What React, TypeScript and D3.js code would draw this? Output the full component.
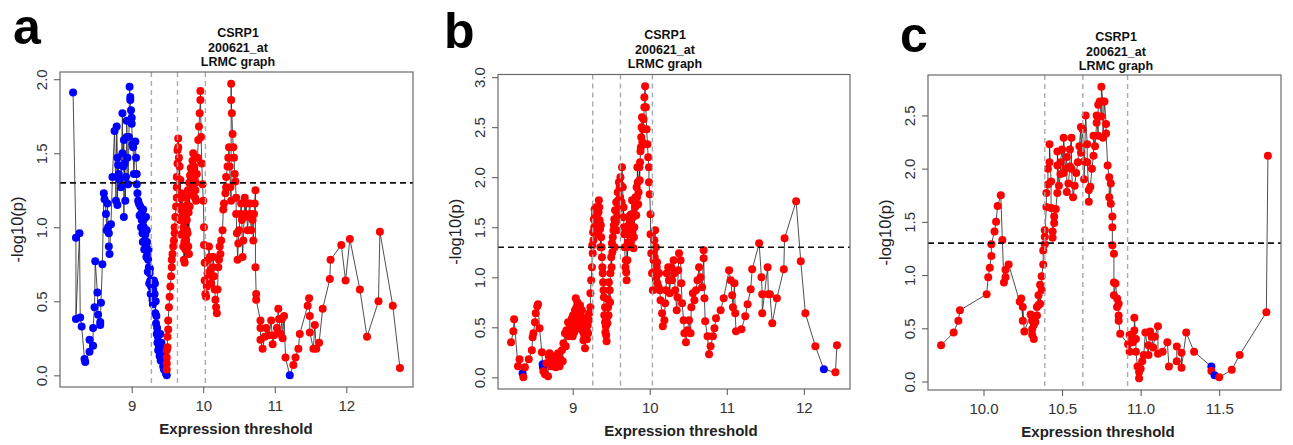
import React, { Component } from "react";
import * as d3 from "d3";

type Pt = [number, number];

const FONT = "'Liberation Sans', Arial, Helvetica, sans-serif";

const titleLines = ["CSRP1", "200621_at", "LRMC graph"];
const xTitle = "Expression threshold";
const yTitle = "-log10(p)";
const pCutoff = 1.3; // -log10(0.05)

// ---- panel a ----
const aBlue: Pt[] = [
  [8.18,1.91],[8.22,0.93],[8.27,0.96],[8.22,0.38],[8.28,0.39],[8.30,0.33],[8.34,0.11],[8.35,0.09],[8.41,0.16],[8.41,0.24],
  [8.46,0.20],[8.46,0.32],[8.48,0.46],[8.49,0.77],[8.52,0.56],[8.53,0.41],[8.56,0.36],[8.56,0.34],[8.57,0.49],[8.59,0.75],
  [8.61,1.23],[8.62,1.19],[8.64,1.09],[8.65,0.98],[8.66,1.16],[8.67,1.00],[8.68,0.96],[8.68,0.87],[8.69,0.82],[8.71,1.02],
  [8.73,1.34],[8.76,1.65],[8.78,1.18],[8.79,1.68],[8.80,1.47],[8.80,1.15],[8.81,1.42],[8.82,1.36],[8.83,1.32],[8.85,1.27],
  [8.87,1.77],[8.87,1.50],[8.88,1.41],[8.89,1.59],[8.89,1.07],[8.90,1.43],[8.91,1.18],[8.92,1.34],[8.93,1.61],[8.93,1.72],
  [8.94,1.47],[8.95,1.29],[8.96,1.61],[8.97,1.95],[8.98,1.88],[8.98,1.86],[8.99,1.79],[9.00,1.74],[9.00,1.70],[9.01,1.56],
  [9.02,1.54],[9.03,1.36],[9.05,1.58],[9.06,1.47],[9.07,1.36],[9.07,1.29],[9.08,1.23],[9.09,1.18],[9.10,1.16],[9.11,1.08],
  [9.12,1.14],[9.13,1.00],[9.13,1.09],[9.14,1.05],[9.145,1.10],[9.15,0.96],[9.155,0.90],[9.16,1.12],[9.165,1.05],[9.17,1.00],
  [9.175,0.85],[9.18,0.91],[9.19,0.95],[9.20,1.07],[9.20,0.87],[9.205,0.80],[9.21,0.98],[9.215,0.90],[9.22,0.82],[9.225,0.70],
  [9.23,0.78],[9.235,0.85],[9.24,0.73],[9.245,0.62],[9.25,0.69],[9.255,0.72],[9.26,0.64],[9.265,0.55],[9.27,0.60],[9.28,0.55],
  [9.285,0.60],[9.29,0.51],[9.295,0.48],[9.30,0.58],[9.31,0.64],[9.31,0.50],[9.32,0.55],[9.325,0.62],[9.33,0.42],[9.335,0.50],
  [9.34,0.35],[9.345,0.40],[9.35,0.28],[9.355,0.32],[9.36,0.22],[9.365,0.26],[9.37,0.17],[9.38,0.20],[9.39,0.13],[9.39,0.22],
  [9.40,0.28],[9.405,0.10],[9.41,0.19],[9.415,0.22],[9.42,0.15],[9.425,0.12],[9.43,0.10],[9.435,0.18],[9.44,0.06],[9.445,0.10],
  [9.45,0.04],[9.455,0.14],[9.46,0.08],[9.465,0.05],[9.475,0.09],[9.48,0.01],[9.49,0.00],[11.21,0.00]
];
const aRed: Pt[] = [
  [9.49,0.17],[9.49,0.04],[9.49,0.08],[9.49,0.12],[9.50,0.19],[9.50,0.26],[9.51,0.31],[9.51,0.37],[9.52,0.46],[9.53,0.53],
  [9.54,0.60],[9.55,0.67],[9.56,0.73],[9.56,0.78],[9.57,0.82],[9.58,0.87],[9.59,0.91],[9.60,0.96],[9.60,1.00],[9.61,1.07],
  [9.62,1.14],[9.63,1.20],[9.63,1.27],[9.63,1.34],[9.64,1.43],[9.64,1.52],[9.65,1.60],[9.65,1.54],[9.66,1.47],[9.665,1.20],
  [9.67,1.41],[9.675,1.05],[9.68,1.32],[9.685,1.12],[9.69,1.23],[9.695,0.95],[9.70,1.14],[9.70,1.05],[9.705,1.20],[9.71,0.96],
  [9.715,1.10],[9.72,0.87],[9.725,1.00],[9.73,0.78],[9.735,0.90],[9.74,0.76],[9.745,1.05],[9.75,0.85],[9.755,1.10],[9.76,0.91],
  [9.765,1.20],[9.77,0.98],[9.77,1.05],[9.775,1.15],[9.78,0.96],[9.785,1.25],[9.79,0.87],[9.795,1.10],[9.80,0.82],[9.805,1.30],
  [9.81,1.14],[9.815,1.35],[9.82,1.23],[9.825,1.40],[9.83,1.32],[9.835,1.22],[9.84,1.38],[9.845,1.30],[9.85,1.45],[9.855,1.32],
  [9.86,1.50],[9.865,1.25],[9.87,1.41],[9.875,1.40],[9.88,1.32],[9.885,1.20],[9.89,1.25],[9.895,1.30],[9.90,1.18],[9.91,1.36],
  [9.92,1.47],[9.93,1.59],[9.94,1.68],[9.95,1.77],[9.96,1.86],[9.96,1.92],[9.97,1.61],[9.98,1.43],[9.99,1.29],[10.00,1.18],
  [10.01,1.00],[10.01,0.88],[10.02,0.76],[10.02,0.64],[10.03,0.55],[10.04,0.53],[10.05,0.60],[10.06,0.69],[10.07,0.78],[10.08,0.87],
  [10.09,0.80],[10.10,0.71],[10.11,0.62],[10.12,0.67],[10.13,0.73],[10.14,0.80],[10.15,0.67],[10.16,0.58],[10.17,0.51],[10.18,0.46],
  [10.19,0.42],[10.20,0.58],[10.21,0.73],[10.22,0.78],[10.23,0.87],[10.24,0.82],[10.25,0.91],[10.27,0.98],[10.28,1.12],[10.29,1.16],
  [10.31,1.23],[10.32,1.27],[10.32,1.34],[10.34,1.41],[10.35,1.47],[10.36,1.54],[10.37,1.41],[10.38,1.27],[10.39,1.18],[10.39,1.97],
  [10.39,1.86],[10.40,1.77],[10.41,1.63],[10.42,1.54],[10.43,1.47],[10.44,1.36],[10.45,1.31],[10.46,1.20],[10.46,1.09],[10.47,0.96],
  [10.48,0.78],[10.49,0.89],[10.50,0.98],[10.52,1.09],[10.53,1.16],[10.54,1.05],[10.55,0.80],[10.56,0.91],[10.58,1.20],[10.59,1.09],
  [10.60,1.16],[10.62,0.98],[10.63,1.07],[10.65,1.16],[10.66,1.09],[10.67,0.98],[10.69,1.05],[10.70,0.91],[10.71,1.09],[10.72,1.16],
  [10.73,1.25],[10.73,0.73],[10.74,0.55],[10.74,0.51],[10.80,0.37],[10.80,0.32],[10.80,0.24],[10.83,0.18],[10.86,0.26],[10.88,0.32],
  [10.92,0.27],[10.95,0.37],[10.97,0.21],[10.99,0.27],[11.03,0.32],[11.05,0.45],[11.06,0.38],[11.08,0.28],[11.10,0.38],[11.11,0.25],
  [11.13,0.40],[11.15,0.12],[11.26,0.07],[11.29,0.12],[11.33,0.18],[11.35,0.28],[11.46,0.47],[11.48,0.52],[11.49,0.40],[11.49,0.29],
  [11.54,0.18],[11.56,0.34],[11.58,0.18],[11.62,0.22],[11.67,0.45],[11.77,0.65],[11.78,0.78],[11.93,0.88],[11.99,0.64],[12.05,0.92],
  [12.19,0.58],[12.29,0.26],[12.45,0.50],[12.47,0.97],[12.65,0.47],[12.75,0.05]
];
const aCutoffs = [9.275, 9.64, 10.03];
const aXTicks = [9, 10, 11, 12];
const aYTicks = [0, 0.5, 1, 1.5, 2];

// ---- panel b ----
const bBlue: Pt[] = [[8.35,0.04],[8.61,0.13],[8.615,0.10],[12.26,0.08]];
const bRed: Pt[] = [
  [8.20,0.35],[8.23,0.46],[8.24,0.58],[8.29,0.11],[8.31,0.18],[8.36,0.00],[8.38,0.10],[8.43,0.18],[8.47,0.27],[8.48,0.40],
  [8.49,0.44],[8.51,0.55],[8.52,0.64],[8.54,0.71],[8.55,0.73],[8.57,0.49],[8.60,0.25],[8.62,0.06],[8.64,0.03],[8.66,0.14],
  [8.68,0.01],[8.69,0.21],[8.70,0.24],[8.72,0.11],[8.73,0.15],[8.75,0.11],[8.76,0.21],[8.78,0.10],[8.79,0.16],[8.81,0.24],
  [8.83,0.11],[8.84,0.18],[8.86,0.27],[8.87,0.16],[8.88,0.34],[8.90,0.44],[8.91,0.31],[8.92,0.47],[8.94,0.55],[8.95,0.41],
  [8.96,0.54],[8.97,0.47],[8.99,0.59],[9.00,0.41],[9.005,0.62],[9.01,0.52],[9.02,0.45],[9.03,0.67],[9.035,0.58],[9.04,0.79],
  [9.045,0.66],[9.05,0.70],[9.06,0.75],[9.07,0.57],[9.075,0.62],[9.08,0.49],[9.085,0.52],[9.09,0.64],[9.095,0.72],[9.10,0.55],
  [9.11,0.60],[9.12,0.67],[9.125,0.50],[9.13,0.46],[9.135,0.58],[9.14,0.37],[9.15,0.42],[9.16,0.49],[9.16,0.29],[9.17,0.55],
  [9.18,0.47],[9.185,0.38],[9.19,0.60],[9.195,0.52],[9.20,0.44],[9.21,0.57],[9.215,0.64],[9.23,0.70],[9.23,0.84],[9.24,0.97],
  [9.25,1.10],[9.255,1.32],[9.26,1.24],[9.265,1.45],[9.27,1.37],[9.275,1.58],[9.28,1.50],[9.285,1.68],[9.29,1.63],[9.295,1.55],
  [9.30,1.70],[9.31,1.45],[9.315,1.62],[9.32,1.57],[9.325,1.52],[9.33,1.43],[9.335,1.65],[9.34,1.77],[9.345,1.70],[9.35,1.57],
  [9.355,1.48],[9.36,1.30],[9.365,1.52],[9.37,1.40],[9.375,1.30],[9.38,1.20],[9.385,1.10],[9.39,1.04],[9.395,0.95],[9.40,0.87],
  [9.405,0.80],[9.41,0.62],[9.42,0.70],[9.42,0.55],[9.425,0.45],[9.43,0.51],[9.435,0.42],[9.44,0.36],[9.445,0.60],[9.45,0.54],
  [9.455,0.78],[9.46,0.70],[9.465,0.62],[9.47,0.95],[9.48,0.87],[9.485,0.75],[9.49,1.04],[9.50,1.20],[9.505,1.10],[9.51,1.34],
  [9.515,1.25],[9.52,1.40],[9.53,1.47],[9.535,1.52],[9.54,1.58],[9.545,1.30],[9.55,1.67],[9.56,1.55],[9.565,1.75],[9.57,1.47],
  [9.575,1.58],[9.58,1.63],[9.585,1.85],[9.59,1.77],[9.595,1.68],[9.60,1.95],[9.61,1.90],[9.615,1.80],[9.62,2.00],[9.625,1.92],
  [9.635,1.75],[9.64,2.10],[9.65,1.90],[9.655,1.60],[9.66,1.70],[9.665,1.50],[9.67,1.43],[9.675,1.30],[9.685,1.10],[9.69,1.17],
  [9.695,1.05],[9.70,0.97],[9.705,1.30],[9.71,1.17],[9.715,1.35],[9.72,1.43],[9.725,1.52],[9.735,1.45],[9.74,1.57],[9.745,1.62],
  [9.75,1.43],[9.755,1.35],[9.76,1.63],[9.765,1.52],[9.77,1.77],[9.775,1.45],[9.785,1.60],[9.79,1.29],[9.795,1.40],[9.80,1.50],
  [9.805,1.62],[9.81,1.70],[9.815,1.80],[9.825,1.62],[9.83,1.90],[9.835,1.80],[9.84,2.10],[9.845,1.95],[9.85,1.73],[9.855,1.85],
  [9.865,2.10],[9.87,1.97],[9.875,2.15],[9.88,2.26],[9.885,2.30],[9.89,2.40],[9.895,2.50],[9.90,2.60],[9.905,2.35],[9.91,2.48],
  [9.92,2.58],[9.93,2.70],[9.93,2.80],[9.94,2.91],[9.95,2.70],[9.96,2.48],[9.97,2.33],[9.98,2.20],[9.99,2.10],[9.99,1.95],
  [10.00,1.83],[10.01,1.63],[10.01,1.43],[10.02,1.24],[10.03,1.04],[10.04,0.87],[10.045,1.05],[10.05,1.17],[10.055,1.25],[10.06,1.37],
  [10.065,1.20],[10.07,1.47],[10.075,1.12],[10.08,1.30],[10.085,1.00],[10.09,1.10],[10.095,1.15],[10.10,0.94],[10.105,1.05],[10.115,0.90],
  [10.12,1.04],[10.13,0.87],[10.14,0.77],[10.16,0.64],[10.17,0.51],[10.19,0.57],[10.20,0.74],[10.21,0.87],[10.22,1.04],[10.24,1.10],
  [10.25,0.97],[10.26,0.84],[10.28,1.10],[10.29,0.97],[10.31,1.17],[10.32,1.04],[10.33,0.87],[10.35,0.67],[10.36,0.80],[10.37,1.07],
  [10.38,1.24],[10.40,1.17],[10.41,0.94],[10.42,0.74],[10.44,0.57],[10.45,0.44],[10.47,0.35],[10.49,0.47],[10.51,0.57],[10.53,0.44],
  [10.54,0.70],[10.56,0.84],[10.58,0.77],[10.60,0.87],[10.62,0.97],[10.64,1.10],[10.66,1.00],[10.68,0.90],[10.70,1.19],[10.70,1.27],
  [10.71,0.79],[10.72,0.56],[10.75,0.41],[10.77,0.23],[10.79,0.31],[10.82,0.41],[10.84,0.49],[10.86,0.59],[10.92,0.67],[10.96,0.79],
  [11.03,1.07],[11.05,0.97],[11.07,0.82],[11.08,0.70],[11.10,0.94],[11.11,0.64],[11.12,0.46],[11.19,0.48],[11.24,0.61],[11.27,0.73],
  [11.31,0.88],[11.33,1.08],[11.42,1.34],[11.45,1.00],[11.46,0.83],[11.46,0.64],[11.53,1.10],[11.54,0.83],[11.56,0.83],[11.59,0.54],
  [11.65,0.79],[11.74,1.08],[11.75,1.39],[11.90,1.76],[11.96,1.16],[12.02,0.64],[12.15,0.31],[12.41,0.05],[12.43,0.32]
];
const bCutoffs = [9.26, 9.62, 10.035];
const bXTicks = [9, 10, 11, 12];
const bYTicks = [0, 0.5, 1, 1.5, 2, 2.5, 3];

// ---- panel c ----
const cBlue: Pt[] = [[11.45,0.14],[11.47,0.06]];
const cRed: Pt[] = [
  [9.73,0.34],[9.81,0.46],[9.84,0.57],[9.85,0.67],[10.02,0.82],[10.03,0.98],[10.04,1.07],[10.05,1.18],[10.05,1.29],[10.07,1.41],
  [10.08,1.50],[10.09,1.65],[10.11,1.75],[10.12,1.33],[10.13,0.93],[10.14,0.98],[10.14,1.05],[10.16,1.10],[10.23,0.75],[10.24,0.78],
  [10.25,0.57],[10.25,0.70],[10.26,0.47],[10.30,0.63],[10.31,0.57],[10.31,0.49],[10.31,0.44],[10.32,0.40],[10.32,0.53],[10.32,0.61],
  [10.33,0.56],[10.34,0.62],[10.34,0.70],[10.35,0.81],[10.35,0.72],[10.36,0.91],[10.36,0.73],[10.37,0.86],[10.37,0.99],[10.38,1.10],
  [10.38,1.23],[10.39,1.29],[10.39,1.42],[10.39,1.36],[10.40,1.64],[10.40,1.77],[10.41,1.85],[10.41,2.00],[10.42,2.06],[10.42,2.23],
  [10.43,1.88],[10.43,1.63],[10.44,1.41],[10.44,1.35],[10.45,1.49],[10.45,1.55],[10.46,1.62],[10.47,1.77],[10.47,2.03],[10.47,2.16],
  [10.48,1.84],[10.49,1.95],[10.49,2.06],[10.50,2.18],[10.51,1.96],[10.51,2.29],[10.52,2.00],[10.53,2.11],[10.53,1.78],[10.54,1.86],
  [10.55,2.02],[10.55,2.18],[10.56,2.29],[10.56,2.00],[10.57,1.73],[10.58,1.84],[10.59,1.96],[10.60,2.06],[10.61,2.21],[10.62,2.39],
  [10.62,2.15],[10.63,2.37],[10.64,2.07],[10.64,1.90],[10.65,2.50],[10.66,2.23],[10.66,2.06],[10.67,1.80],[10.67,1.69],[10.68,1.83],
  [10.69,2.00],[10.70,2.12],[10.70,2.31],[10.71,2.21],[10.72,2.43],[10.72,2.50],[10.73,2.31],[10.73,2.60],[10.74,2.63],[10.75,2.49],
  [10.75,2.77],[10.76,2.63],[10.76,2.29],[10.77,2.63],[10.78,2.42],[10.78,2.33],[10.79,2.03],[10.80,1.92],[10.80,1.73],[10.81,1.86],
  [10.81,1.67],[10.82,1.55],[10.82,1.45],[10.82,1.28],[10.83,1.20],[10.83,0.93],[10.83,0.81],[10.84,0.92],[10.85,0.78],[10.85,0.70],
  [10.86,0.73],[10.86,0.62],[10.86,0.57],[10.87,0.45],[10.92,0.35],[10.93,0.44],[10.93,0.28],[10.94,0.40],[10.95,0.37],[10.95,0.42],
  [10.96,0.48],[10.96,0.60],[10.97,0.40],[10.97,0.28],[10.98,0.14],[10.99,0.09],[10.99,0.03],[11.00,0.12],[11.01,0.19],[11.02,0.25],
  [11.03,0.46],[11.05,0.25],[11.05,0.34],[11.06,0.47],[11.07,0.42],[11.08,0.32],[11.09,0.42],[11.11,0.52],[11.11,0.26],[11.14,0.28],
  [11.17,0.37],[11.18,0.14],[11.23,0.19],[11.23,0.33],[11.26,0.27],[11.26,0.13],[11.29,0.46],[11.34,0.28],[11.45,0.10],[11.50,0.04],
  [11.58,0.11],[11.63,0.25],[11.80,0.65],[11.81,2.12]
];
const cCutoffs = [10.39, 10.632, 10.917];
const cXTicks = [10, 10.5, 11, 11.5];
const cYTicks = [0, 0.5, 1, 1.5, 2, 2.5];

// where each panel sits on the page
const layoutA = { letter: "a", letterX: 13, letterY: 44, x0: 60, x1: 413, y0: 72, y1: 387, titleX: 238, titleY: 37, xTitleX: 236, yTitleX: 23, xFmt: "d" };
const layoutB = { letter: "b", letterX: 444, letterY: 48, x0: 498, x1: 850, y0: 74.5, y1: 389, titleX: 665, titleY: 39, xTitleX: 681, yTitleX: 461, xFmt: "d" };
const layoutC = { letter: "c", letterX: 900, letterY: 52, x0: 928, x1: 1281, y0: 75, y1: 390, titleX: 1116, titleY: 41, xTitleX: 1098, yTitleX: 891, xFmt: ".1f" };

class LrmcPanel extends Component<any> {
  gRef = React.createRef<SVGGElement>();

  componentDidMount() {
    this.createGraph();
  }

  componentDidUpdate() {
    this.destroyGraph();
    this.createGraph();
  }

  componentWillUnmount() {
    this.destroyGraph();
  }

  // R style axis range: data extent plus 4% on each side
  padded(ext: [number, number]) {
    const r = ext[1] - ext[0];
    return [ext[0] - 0.04 * r, ext[1] + 0.04 * r];
  }

  createGraph() {
    const g = d3.select(this.gRef.current);
    const L = this.props.layout;

    const pts = this.props.blue
      .map((p: Pt) => ({ x: p[0], y: p[1], col: "#0000ff" }))
      .concat(this.props.red.map((p: Pt) => ({ x: p[0], y: p[1], col: "#ff0000" })))
      .sort((p: any, q: any) => p.x - q.x);

    const x = d3.scaleLinear()
      .domain(this.padded(d3.extent(pts, (d: any) => d.x) as [number, number]))
      .range([L.x0, L.x1]);
    const y = d3.scaleLinear()
      .domain(this.padded(d3.extent(pts, (d: any) => d.y) as [number, number]))
      .range([L.y1, L.y0]);

    // connecting line then the dots
    const line = d3.line<any>().x(d => x(d.x)).y(d => y(d.y));
    g.append("path")
      .datum(pts)
      .attr("d", line)
      .attr("fill", "none")
      .attr("stroke", "#222")
      .attr("stroke-width", 0.8);

    g.append("g")
      .selectAll("circle")
      .data(pts)
      .enter()
      .append("circle")
      .attr("cx", (d: any) => x(d.x))
      .attr("cy", (d: any) => y(d.y))
      .attr("r", 4)
      .attr("fill", (d: any) => d.col);

    // cutoff lines
    g.append("g")
      .selectAll("line")
      .data(this.props.cutoffs)
      .enter()
      .append("line")
      .attr("x1", (d: number) => x(d))
      .attr("x2", (d: number) => x(d))
      .attr("y1", L.y0)
      .attr("y2", L.y1)
      .attr("stroke", "#aaa")
      .attr("stroke-width", 1.4)
      .attr("stroke-dasharray", "5,4");

    g.append("line")
      .attr("x1", L.x0)
      .attr("x2", L.x1)
      .attr("y1", y(pCutoff))
      .attr("y2", y(pCutoff))
      .attr("stroke", "#111")
      .attr("stroke-width", 1.6)
      .attr("stroke-dasharray", "6,4");

    g.append("rect")
      .attr("x", L.x0)
      .attr("y", L.y0)
      .attr("width", L.x1 - L.x0)
      .attr("height", L.y1 - L.y0)
      .attr("fill", "none")
      .attr("stroke", "#6a6a6a")
      .attr("stroke-width", 1.2);

    // axes
    const xAxis = d3.axisBottom(x)
      .tickValues(this.props.xTicks)
      .tickFormat(d3.format(L.xFmt) as any)
      .tickSize(6)
      .tickPadding(7);
    const gx = g.append("g")
      .attr("transform", "translate(0," + L.y1 + ")")
      .call(xAxis)
      .attr("font-size", 15)
      .attr("font-family", FONT);
    gx.select(".domain").remove();
    gx.selectAll(".tick line").attr("stroke", "#555");
    gx.selectAll(".tick text").attr("fill", "#333");

    const yAxis = d3.axisLeft(y)
      .tickValues(this.props.yTicks)
      .tickFormat(d3.format(".1f") as any)
      .tickSize(6);
    const gy = g.append("g")
      .attr("transform", "translate(" + L.x0 + ",0)")
      .call(yAxis)
      .attr("font-size", 15)
      .attr("font-family", FONT);
    gy.select(".domain").remove();
    gy.selectAll(".tick line").attr("stroke", "#555");
    gy.selectAll(".tick text")
      .attr("x", 0)
      .attr("dy", 0)
      .attr("text-anchor", "middle")
      .attr("transform", "translate(-13,0) rotate(-90)")
      .attr("fill", "#333");

    // titles
    g.append("g")
      .selectAll("text")
      .data(titleLines)
      .enter()
      .append("text")
      .text((d: string) => d)
      .attr("x", L.titleX)
      .attr("y", (d: string, i: number) => L.titleY + i * 14.5)
      .attr("text-anchor", "middle")
      .attr("font-weight", "bold")
      .attr("font-size", 12.5)
      .attr("fill", "#111");

    g.append("text")
      .text(xTitle)
      .attr("x", L.xTitleX)
      .attr("y", L.y1 + 47)
      .attr("text-anchor", "middle")
      .attr("font-weight", "bold")
      .attr("font-size", 15)
      .attr("fill", "#222");

    g.append("text")
      .text(yTitle)
      .attr("transform", "translate(" + L.yTitleX + "," + (L.y0 + L.y1) / 2 + ") rotate(-90)")
      .attr("text-anchor", "middle")
      .attr("font-size", 16.5)
      .attr("fill", "#222");

    g.append("text")
      .text(L.letter)
      .attr("x", L.letterX)
      .attr("y", L.letterY)
      .attr("font-weight", "bold")
      .attr("font-size", 50)
      .attr("fill", "#000");
  }

  destroyGraph() {
    d3.select(this.gRef.current).selectAll("*").remove();
  }

  render() {
    return <g className={this.props.name} ref={this.gRef} />;
  }
}

export default function App() {
  return (
    <svg
      width={1293}
      height={445}
      style={{ position: "absolute", left: 0, top: 0 }}
      fontFamily={FONT}
    >
      <rect width={1293} height={445} fill="#fff" />
      <LrmcPanel name="panel-a" red={aRed} blue={aBlue} cutoffs={aCutoffs} xTicks={aXTicks} yTicks={aYTicks} layout={layoutA} />
      <LrmcPanel name="panel-b" red={bRed} blue={bBlue} cutoffs={bCutoffs} xTicks={bXTicks} yTicks={bYTicks} layout={layoutB} />
      <LrmcPanel name="panel-c" red={cRed} blue={cBlue} cutoffs={cCutoffs} xTicks={cXTicks} yTicks={cYTicks} layout={layoutC} />
    </svg>
  );
}
